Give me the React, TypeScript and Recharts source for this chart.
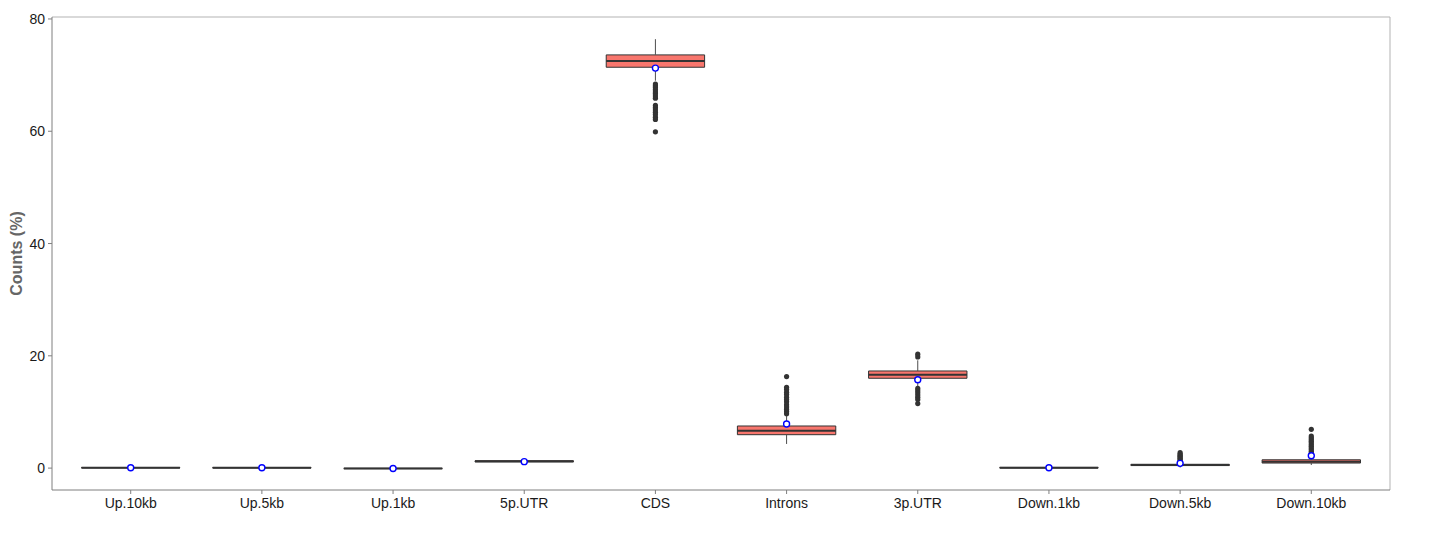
import {
  ComposedChart,
  XAxis,
  YAxis,
  Scatter,
  ReferenceArea,
  ReferenceLine,
} from "recharts";

const categories = [
  "Up.10kb", "Up.5kb", "Up.1kb", "5p.UTR", "CDS",
  "Introns", "3p.UTR", "Down.1kb", "Down.5kb", "Down.10kb",
];

// box statistics per category (percent)
const whiskerLow = [0.0, 0.0, -0.1, 1.0, 69.0, 4.3, 14.6, 0.0, 0.1, 0.55];
const q1 = [0.03, 0.02, -0.09, 1.1, 71.4, 5.95, 16.0, 0.02, 0.45, 0.9];
const median = [0.07, 0.06, -0.06, 1.2, 72.5, 6.65, 16.65, 0.07, 0.55, 1.12];
const q3 = [0.11, 0.1, -0.03, 1.3, 73.6, 7.5, 17.3, 0.12, 0.68, 1.48];
const whiskerHigh = [0.2, 0.2, 0.0, 1.4, 76.4, 9.3, 19.2, 0.2, 1.1, 2.5];
const means = [0.07, 0.06, -0.06, 1.15, 71.25, 7.85, 15.75, 0.06, 0.85, 2.2];

const outliers: number[][] = [
  [],
  [],
  [],
  [],
  [68.4, 68.1, 67.8, 67.4, 67.0, 66.7, 66.3, 65.9, 64.6, 64.2, 63.8, 63.4, 63.0, 62.5, 62.1, 59.9],
  [9.7, 10.1, 10.5, 10.9, 11.3, 11.8, 12.2, 12.6, 13.1, 13.5, 14.0, 14.4, 16.3],
  [19.8, 20.3, 14.2, 13.8, 13.4, 13.0, 12.6, 12.2, 11.5],
  [],
  [1.3, 1.5, 1.7, 1.9, 2.1, 2.3, 2.5, 2.75],
  [2.7, 3.0, 3.3, 3.6, 3.9, 4.2, 4.5, 4.8, 5.1, 5.4, 5.7, 6.9],
];

const yTicks = [0, 20, 40, 60, 80];

const HALF = 0.375;
const Y_MIN = -3.9;
const Y_MAX = 80.35;
const FONT = "'Liberation Sans', Arial, sans-serif";

const meanData = means.map((m, i) => ({ x: i + 1, y: m }));
const outlierData = outliers.flatMap((list, i) => list.map((v) => ({ x: i + 1, y: v })));

// eslint-disable-next-line @typescript-eslint/no-explicit-any
function YLabel({ viewBox }: any) {
  const cx = viewBox.x + 14;
  const cy = viewBox.y + viewBox.height / 2;
  return (
    <text
      x={cx}
      y={cy}
      transform={`rotate(-90 ${cx} ${cy})`}
      textAnchor="middle"
      fontSize={16}
      fontWeight="bold"
      fill="#666"
      fontFamily={FONT}
    >
      Counts (%)
    </text>
  );
}

export default function App() {
  return (
    <div style={{ fontFamily: FONT }}>
      <ComposedChart
        width={1420}
        height={521}
        margin={{ top: 9, right: 38, left: 0, bottom: 0 }}
      >
        <XAxis
          type="number"
          dataKey="x"
          domain={[0.4, 10.6]}
          ticks={[1, 2, 3, 4, 5, 6, 7, 8, 9, 10]}
          tickFormatter={(v: number) => categories[v - 1] ?? ""}
          allowDataOverflow
          height={39}
          tickSize={4}
          tickMargin={4}
          stroke="#7f7f7f"
          tick={{ fill: "#1a1a1a", fontSize: 14, fontFamily: FONT }}
        />
        <YAxis
          type="number"
          dataKey="y"
          domain={[Y_MIN, Y_MAX]}
          ticks={yTicks}
          allowDataOverflow
          width={44}
          tickSize={4}
          tickMargin={3}
          stroke="#7f7f7f"
          tick={{ fill: "#1a1a1a", fontSize: 14, fontFamily: FONT }}
          label={<YLabel />}
        />
        {/* panel border, top and right */}
        <ReferenceLine y={Y_MAX} stroke="#b3b3b3" strokeWidth={1} ifOverflow="visible" />
        <ReferenceLine x={10.6} stroke="#b3b3b3" strokeWidth={1} ifOverflow="visible" />

        {categories.map((c, i) => (
          <ReferenceLine
            key={`wl-${c}`}
            segment={[{ x: i + 1, y: whiskerLow[i] }, { x: i + 1, y: q1[i] }]}
            stroke="#4d4d4d"
            strokeWidth={1}
            ifOverflow="visible"
          />
        ))}
        {categories.map((c, i) => (
          <ReferenceLine
            key={`wh-${c}`}
            segment={[{ x: i + 1, y: q3[i] }, { x: i + 1, y: whiskerHigh[i] }]}
            stroke="#4d4d4d"
            strokeWidth={1}
            ifOverflow="visible"
          />
        ))}
        {categories.map((c, i) => (
          <ReferenceArea
            key={`box-${c}`}
            x1={i + 1 - HALF}
            x2={i + 1 + HALF}
            y1={q1[i]}
            y2={q3[i]}
            fill="#F8766D"
            fillOpacity={1}
            stroke="#333333"
            strokeWidth={1}
            ifOverflow="visible"
          />
        ))}
        {categories.map((c, i) => (
          <ReferenceLine
            key={`med-${c}`}
            segment={[{ x: i + 1 - HALF, y: median[i] }, { x: i + 1 + HALF, y: median[i] }]}
            stroke="#333333"
            strokeWidth={2}
            ifOverflow="visible"
          />
        ))}
        <Scatter
          data={outlierData}
          isAnimationActive={false}
          // eslint-disable-next-line @typescript-eslint/no-explicit-any
          shape={(p: any) => <circle cx={p.cx} cy={p.cy} r={2.6} fill="#333333" />}
        />
        <Scatter
          data={meanData}
          isAnimationActive={false}
          // eslint-disable-next-line @typescript-eslint/no-explicit-any
          shape={(p: any) => (
            <circle cx={p.cx} cy={p.cy} r={3} fill="#ffffff" stroke="#0000ff" strokeWidth={1.4} />
          )}
        />
      </ComposedChart>
    </div>
  );
}
